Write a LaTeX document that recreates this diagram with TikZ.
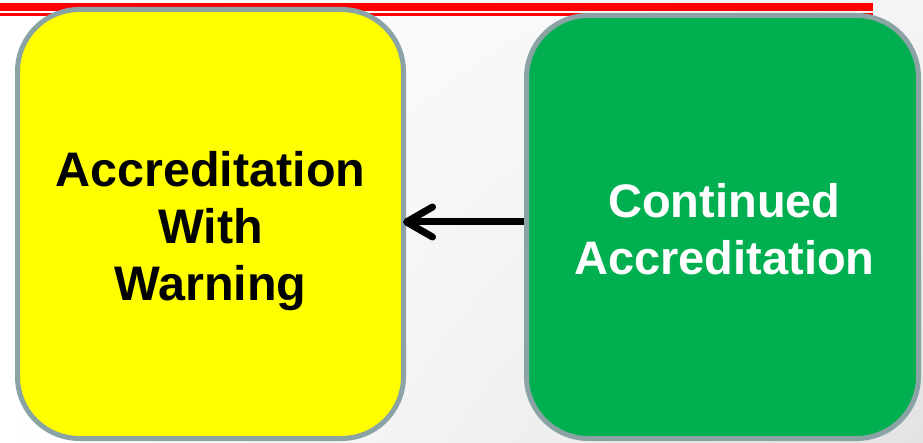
\documentclass[tikz,border=0pt]{standalone}
\usepackage{fontspec}
\setmainfont{Liberation Sans}
\usetikzlibrary{arrows.meta,shadings}
\definecolor{boxgray}{HTML}{8CA3A6}
\definecolor{accyellow}{HTML}{FFFF00}
\definecolor{accgreen}{HTML}{00B050}
\definecolor{topred}{HTML}{FF0000}
\tikzset{
  statebox/.style={draw=boxgray, line width=5pt, rounded corners=62pt, inner sep=0pt},
  boxtext/.style={align=center, inner sep=0pt, font=\fontsize{48.5}{57}\selectfont\bfseries},
  conn/.style={draw=black, line width=7pt, shorten >=-3pt,
    -{Straight Barb[length=26pt, width=30pt, round]}},
}
\begin{document}
\begin{tikzpicture}[x=1pt, y=-1pt]
  \useasboundingbox (0,0) rectangle (923,443);
  \shade[upper left=white, upper right=gray!8, lower left=white, lower right=gray!22]
    (0,0) rectangle (923,443);
  \fill[topred] (0,3.3) rectangle (873,11);
  \fill[topred] (0,13.3) rectangle (873,16);
  \node[statebox, fill=accyellow, minimum width=386pt, minimum height=429pt]
    (yellow) at (210.5,224) {};
  \node[boxtext, text=black] (yellowtext) at ([yshift=-7pt]yellow.center)
    {Accreditation\\With\\Warning};
  \node[statebox, fill=accgreen, minimum width=392pt, minimum height=423pt]
    (green) at (722.5,227) {};
  \node[boxtext, text=white, font=\fontsize{47}{57}\selectfont\bfseries]
    (greentext) at ([xshift=2pt, yshift=-2pt]green.center) {Continued\\Accreditation};
  \coordinate (ay) at (0,222);
  \draw[conn] (green.west |- ay) -- (yellow.east |- ay);
\end{tikzpicture}
\end{document}
